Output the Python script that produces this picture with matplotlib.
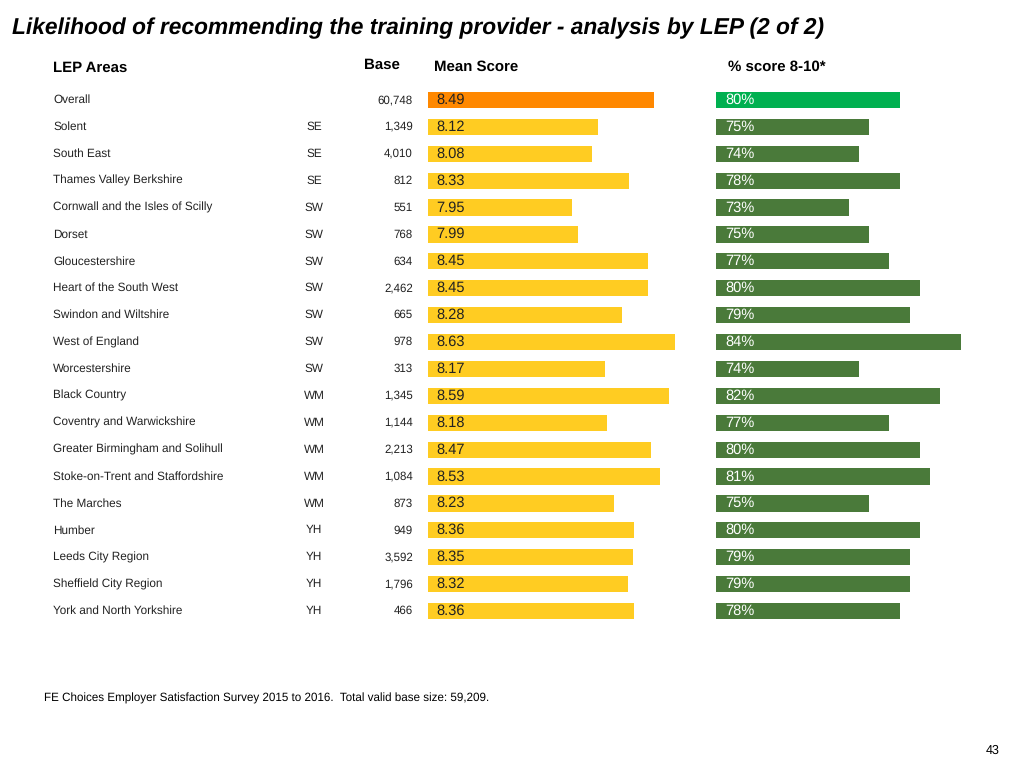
import numpy as np
import matplotlib.pyplot as plt
import matplotlib.transforms as mtransforms

plt.rcParams['font.family'] = ['Liberation Sans', 'DejaVu Sans']
plt.rcParams['text.hinting'] = 'no_hinting'

areas = ['Overall', 'Solent', 'South East', 'Thames Valley Berkshire',
         'Cornwall and the Isles of Scilly', 'Dorset', 'Gloucestershire',
         'Heart of the South West', 'Swindon and Wiltshire', 'West of England',
         'Worcestershire', 'Black Country', 'Coventry and Warwickshire',
         'Greater Birmingham and Solihull', 'Stoke-on-Trent and Staffordshire',
         'The Marches', 'Humber', 'Leeds City Region', 'Sheffield City Region',
         'York and North Yorkshire']
regions = ['', 'SE', 'SE', 'SE', 'SW', 'SW', 'SW', 'SW', 'SW', 'SW', 'SW',
           'WM', 'WM', 'WM', 'WM', 'WM', 'YH', 'YH', 'YH', 'YH']
bases = ['60,748', '1,349', '4,010', '812', '551', '768', '634', '2,462', '665',
         '978', '313', '1,345', '1,144', '2,213', '1,084', '873', '949', '3,592',
         '1,796', '466']
mean_scores = [8.49, 8.12, 8.08, 8.33, 7.95, 7.99, 8.45, 8.45, 8.28, 8.63, 8.17,
               8.59, 8.18, 8.47, 8.53, 8.23, 8.36, 8.35, 8.32, 8.36]
pct_values = [78, 75, 74, 78, 73, 75, 77, 80, 79, 84, 74, 82, 77, 80, 81, 75,
              80, 79, 79, 78]
pct_labels = ['80%', '75%', '74%', '78%', '73%', '75%', '77%', '80%', '79%',
              '84%', '74%', '82%', '77%', '80%', '81%', '75%', '80%', '79%',
              '79%', '78%']

W, H = 1024, 768
fig = plt.figure(figsize=(W / 100, H / 100), dpi=100)

def px_axes(x0, y0, x1, y1):
    # pixel box (top-left origin) -> axes
    return fig.add_axes([x0 / W, 1 - y1 / H, (x1 - x0) / W, (y1 - y0) / H])

n = len(areas)
y = np.arange(n)
top, bottom = 86.5, 624.5

ax1 = px_axes(428, top, 700, bottom)
ax2 = px_axes(716, top, 990, bottom)

mean_colors = ['#FF8800'] + ['#FFCC22'] * (n - 1)
pct_colors = ['#00B050'] + ['#4A7A3A'] * (n - 1)

ax1.barh(y, np.array(mean_scores) - 7.0, left=7.0, height=0.6, color=mean_colors)
ax2.barh(y, np.array(pct_values) - 60, left=60, height=0.6, color=pct_colors)

ax1.set_xlim(7.0, 7.0 + 272 / 151.5)
ax2.set_xlim(60, 60 + 274 / 10.2)
for ax in (ax1, ax2):
    ax.set_ylim(n - 0.5, -0.5)
    ax.axis('off')

for i in range(n):
    ax1.text(7.055, y[i], '%.2f' % mean_scores[i], va='center', ha='left',
             fontsize=10.5, color='#222222')
    ax2.text(60.95, y[i], pct_labels[i], va='center', ha='left',
             fontsize=10.5, color='white')

tr = mtransforms.blended_transform_factory(fig.transFigure, ax1.transData)
for i in range(n):
    fig.text(53 / W, y[i], areas[i], transform=tr, va='center', ha='left',
             fontsize=8.5, color='#222222')
    fig.text(314 / W, y[i], regions[i], transform=tr, va='center', ha='center',
             fontsize=8.5, color='#222222')
    fig.text(413 / W, y[i], bases[i], transform=tr, va='center', ha='right',
             fontsize=8.3, color='#222222')

def ftext(x, yy, s, **kw):
    fig.text(x / W, 1 - yy / H, s, **kw)

ftext(12, 28, 'Likelihood of recommending the training provider - analysis by LEP (2 of 2)',
      fontsize=16.4, fontweight='bold', fontstyle='italic', va='center', ha='left')
ftext(53, 68, 'LEP Areas', fontsize=10.8, fontweight='bold', va='center')
ftext(382, 65, 'Base', fontsize=10.8, fontweight='bold', va='center', ha='center')
ftext(434, 67, 'Mean Score', fontsize=10.8, fontweight='bold', va='center')
ftext(728, 67, '% score 8-10*', fontsize=10.8, fontweight='bold', va='center')
ftext(44, 698, 'FE Choices Employer Satisfaction Survey 2015 to 2016.  Total valid base size: 59,209.',
      fontsize=8.4, va='center')
ftext(1000, 751, '43', fontsize=9, va='center', ha='right')

fig.savefig('out.png', dpi=100)
